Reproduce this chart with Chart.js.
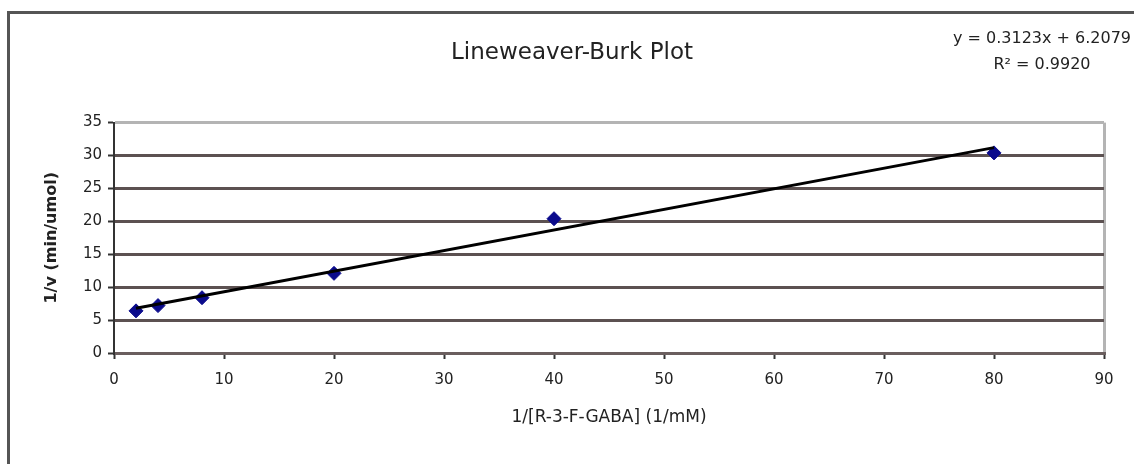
<!DOCTYPE html>
<html>
<head>
<meta charset="utf-8">
<script src="https://cdn.jsdelivr.net/npm/chart.js@4/dist/chart.umd.min.js"></script>
<style>
  html, body { margin: 0; padding: 0; background: #fff; }
  #wrap { position: relative; width: 1134px; height: 464px; overflow: hidden; }
  #frame { position: absolute; left: 7px; top: 11px; width: 1200px; height: 500px;
           border-left: 3px solid #555; border-top: 3px solid #555; box-sizing: border-box; }
  canvas { position: absolute; left: 0; top: 0; }
</style>
</head>
<body>
<div id="wrap">
  <div id="frame"></div>
  <canvas id="lbChart"></canvas>
</div>
<script>
// data
const substrateInv = [2, 4, 8, 20, 40, 80];
const rateInv = [6.4, 7.2, 8.4, 12.1, 20.4, 30.4];

// trendline end points (as drawn)
const trendX = [2, 80];
const trendY = [6.8, 31.2];

const equationLines = ['y = 0.3123x + 6.2079', 'R² = 0.9920'];

const FONT = "'DejaVu Sans', Arial, sans-serif";

const equationLabel = {
  id: 'equationLabel',
  afterDraw(chart) {
    const ctx = chart.ctx;
    ctx.save();
    ctx.font = '16px ' + FONT;
    ctx.fillStyle = '#222';
    ctx.textAlign = 'center';
    ctx.textBaseline = 'middle';
    ctx.fillText(equationLines[0], 1042, 39);
    ctx.fillText(equationLines[1], 1042, 65);
    ctx.restore();
  }
};

document.addEventListener('DOMContentLoaded', () => {
  const ctx = document.getElementById('lbChart');

  new Chart(ctx, {
    type: 'scatter',
    data: {
      datasets: [
        {
          type: 'line',
          label: 'Linear fit',
          data: trendX.map((x, i) => ({ x: x, y: trendY[i] })),
          borderColor: '#000',
          borderWidth: 3,
          pointRadius: 0,
          fill: false,
          order: 0
        },
        {
          label: '1/v',
          data: substrateInv.map((x, i) => ({ x: x, y: rateInv[i] })),
          pointStyle: 'rectRot',
          pointRadius: 7,
          backgroundColor: '#0b0b8c',
          borderColor: '#0b0b8c',
          order: 1
        }
      ]
    },
    options: {
      responsive: true,
      maintainAspectRatio: false,
      animation: false,
      layout: { padding: { top: 0, left: 40, right: 30, bottom: 30 } },
      plugins: {
        legend: { display: false },
        tooltip: { enabled: false },
        title: {
          display: true,
          text: 'Lineweaver-Burk Plot',
          color: '#222',
          font: { family: FONT, size: 23, weight: 'normal' },
          padding: { top: 39, bottom: 56 }
        }
      },
      scales: {
        x: {
          type: 'linear',
          min: 0,
          max: 90,
          afterFit: (scale) => { scale.height = 81; },
          ticks: { stepSize: 10, color: '#222', font: { family: FONT, size: 15 }, padding: 12 },
          grid: {
            drawOnChartArea: true,
            color: (c) => (c.tick && c.tick.value === 90 ? '#b4b4b4' : 'rgba(0,0,0,0)'),
            lineWidth: 3,
            tickColor: '#333',
            tickLength: 6,
            tickWidth: 2
          },
          border: { display: true, color: '#6a5e5e', width: 3 },
          title: {
            display: true,
            text: '1/[R-3-F-GABA] (1/mM)',
            color: '#222',
            font: { family: FONT, size: 17 },
            padding: { top: 4, bottom: 6 }
          }
        },
        y: {
          min: 0,
          max: 35,
          afterFit: (scale) => { scale.width = 74; },
          ticks: { stepSize: 5, color: '#222', font: { family: FONT, size: 15 }, padding: 6 },
          grid: {
            color: (c) => (c.tick && c.tick.value === 35 ? '#b4b4b4' : '#5c5151'),
            lineWidth: 3,
            tickColor: '#333',
            tickLength: 6,
            tickWidth: 2
          },
          border: { display: true, color: '#333', width: 2 },
          title: {
            display: true,
            text: '1/v (min/umol)',
            color: '#222',
            font: { family: FONT, size: 16, weight: 'bold' },
            padding: { top: 2, bottom: 2 }
          }
        }
      }
    },
    plugins: [equationLabel]
  });
});
</script>
</body>
</html>
